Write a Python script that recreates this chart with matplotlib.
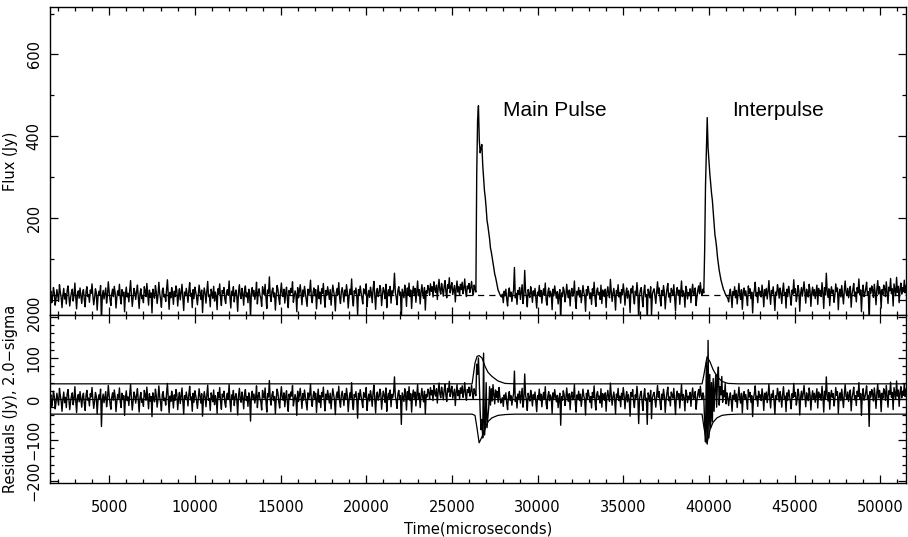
import numpy as np
import matplotlib.pyplot as plt

# sample grid (microseconds)
t_start = 1550
t_step = 50

# off-pulse level of the fitted model (Jy)
baseline = 12

# flux samples (Jy)
flux_a = [
    14, 22, -6, 9, 31, 18, -12, 4, 26, 11, -3, 38, 20, 7, -18, 12, 29, 3, 16, -9,
    24, 35, 10, -14, 6, 19, 27, -2, 13, 42, 8, -21, 15, 23, 5, 30, 12, -8, 18, 26,
    1, -16, 21, 33, 9, 14, -5, 25, 17, 40, 11, -11, 6, 28, 19, -24, 8, 22, 13, 36,
    -55, 10, 24, 3, 17, 30, -7, 12, 45, 21, 2, -13, 16, 27, 9, 34, 18, -19, 7, 23,
    14, 39, 5, -9, 26, 11, 20, -28, 15, 32, 8, 17, -4, 24, 48, 13, -15, 6, 29, 19,
    2, 21, 37, 10, -20, 16, 28, 4, 12, -6, 33, 22, 9, 41, 15, -12, 25, 7, 18, -31,
    27, 13, 5, 36, 20, -8, 11, 44, 17, 3, -17, 23, 30, 8, 14, -3, 26, 50, 12, -22,
    19, 6, 31, 16, -10, 22, 9, 35, 24, -14, 13, 28, 1, 18, 39, 7, -25, 20, 11, 29,
    15, -5, 23, 43, 10, 17, -18, 26, 4, 32, 21, 8, -11, 14, 37, 19, 2, 25, -30, 12,
    30, 16, -7, 22, 46, 9, 13, -16, 27, 18, 5, 34, -2, 20, 11, -23, 28, 15, 40, 6,
    -13, 24, 17, 31, 3, -8, 19, 26, 12, 47, 7, -19, 22, 14, 33, -4, 16, 25, 9, -27,
    21, 38, 11, 4, 29, 15, -12, 23, 35, 8, 18, -6, 27, 13, -42, 20, 31, 10, 24, 2,
    16, 44, -9, 19, 28, 12, 6, -15, 33, 21, 14, 39, 7, -20, 25, 17, 57, 11, -3, 22,
    30, 8, 18, -24, 13, 36, 26, 5, -10, 20, 42, 15, 9, 27, -7, 17, 32, 3, -18, 24,
    12, 29, 19, 45, -5, 10, 23, 14, -28, 31, 6, 21, 38, 16, -11, 25, 9, 34, 18, 1,
    -15, 27, 13, 22, 49, 8, -6, 19, 30, 11, 26, -21, 15, 36, 4, 20, -9, 28, 17, 41,
    7, -17, 24, 12, 33, 19, 2, 26, -12, 15, 37, 22, 9, -26, 18, 29, 14, 43, 5, -8,
    21, 31, 16, -4, 25, 11, 38, 20, -19, 8, 27, 14, 52, 3, -14, 23, 17, 30, 10, -35,
    26, 13, 35, 19, 6, -9, 28, 22, 15, 40, -16, 11, 24, 7, 32, 18, -6, 27, 46, 12,
    -22, 20, 29, 9, 17, 36, 25, -13, 14, 31, 21, 4, 39, -18, 16, 26, 11, 34, -7, 23,
    15, 28, 66, 19, 8, -11, 24, 33, 13, 20, -50, 27, 17, 6, 37, 22, -15, 30, 12, 42,
    9, 25, -20, 18, 34, 14, 29, -5, 21, 47, 11, 26, -9, 19, 38, 16, 5, 31, -24, 23,
    17, 36, 28, 12, 40, 22, 33, 8, 45, 26, 19, 37, 2, 30, 51, 24, 15, 41, 27, 10,
    34, 48, 21, 6, 38, 29, 55, 18, 32, 43, 14, 25, 36, -4, 28, 47, 20, 33, 12, 39,
    26, 44, 16, 30, 52, 22, 9, 35, 28, 41, 19, 31, 46, 24, 13, 37, 27, 20,
]
main_pulse = [310, 440, 475, 390, 360, 372, 380, 330, 300, 268, 250, 225, 195, 182, 165,
              150, 128, 118, 105, 92, 78, 64, 56, 45, 34, 24, 20, 14, 10]
flux_b = [
    8, 15, -6, 22, 11, 27, 3, -14, 18, 30, 9, 20, -3, 13, 25, 80, 6, 17, -10, 24,
    14, 31, 2, 19, 38, -8, 12, 73, 21, 10, -16, 26, 15, 7, 33, 18, -5, 23, 11, 29,
    4, -19, 20, 13, 36, 9, 24, -7, 16, 28, 12, 42, 1, -12, 19, 30, 8, 22, 15, -23,
    27, 11, 35, 17, 5, 21, -9, 14, 26, -52, 18, 9, 32, 23, -4, 12, 39, 16, 6, 25,
    -14, 20, 29, 10, 17, 47, 3, -20, 22, 13, 31, 8, 24, -6, 15, 36, 19, 11, -27, 26,
    12, 34, 21, 4, 18, -10, 28, 15, 44, 7, -15, 23, 30, 13, 19, 2, 37, -8, 25, 16,
    9, 27, -18, 20, 33, 14, 6, 51, 22, -3, 17, 29, 11, -24, 24, 15, 38, 8, 19, -7,
    26, 13, 40, 21, -12, 16, 30, 5, 23, 10, -30, 28, 18, 35, 7, -9, 22, 14, 43, 17,
    -48, 12, 25, 31, 4, -16, 20, 37, 9, 14, -50, 27, 19, 6, 33, -36, 15, 23, 28, 11,
    -8, 21, 45, 16, 30, 2, -14, 24, 13, 36, 19, -21, 10, 27, 41, 8, 17, -5, 29, 22,
    14, 38, 5, -26, 20, 31, 12, 25, -10, 18, 47, 9, 23, 15, -17, 34, 26, 3, 19, 11,
    28, -6, 22, 39, 13, 17, 30, -13, 8, 24, 35, 16, 43, 20, 11, 27, 18,
]
interpulse = [120, 280, 360, 446, 372, 340, 310, 285, 262, 244, 215, 185, 160, 146,
              128, 105, 88, 73, 62, 50, 42, 34, 26, 22, 16, 12, 8, 5]
flux_c = [
    -4, 16, 27, 9, -18, 21, 12, 33, 6, 24, -9, 18, 41, 14, 2, 26, -22, 19, 30, 11,
    23, 7, -13, 35, 17, 28, 4, 20, -31, 13, 25, 44, 10, 19, -6, 31, 15, 22, 8, 37,
    18, -16, 26, 11, 29, 3, 21, 48, 14, -10, 24, 16, 33, 7, -25, 20, 12, 38, 25, 5,
    30, 17, -8, 23, 42, 13, 19, -19, 27, 9, 34, 21, 6, -12, 25, 15, 50, 18, 28, -3,
    12, 36, 22, -27, 16, 31, 10, 25, 45, 19, -7, 27, 14, 8, 39, 23, -15, 17, 32, 11,
    26, 4, 20, 37, -10, 29, 15, 24, 9, 43, 18, -20, 31, 13, 66, 22, 7, 28, -13, 19,
    33, 16, 25, -5, 12, 40, 21, 30, -23, 17, 27, 8, 36, 14, -9, 24, 47, 19, 11, 29,
    6, 22, 34, -17, 15, 26, 41, 10, 20, -4, 31, 18, 52, 13, 25, -28, 23, 37, 9, 16,
    28, 44, 12, 21, -55, 30, 17, 35, 24, 7, 39, 19, -11, 27, 48, 15, 33, 22, -19, 26,
    14, 37, 29, 9, 45, 20, -8, 32, 23, 53, 16, 28, -14, 40, 25, 11, 56, 19, 34, -6,
    27, 42, 15, 31, 21, 49, 18, 36,
]

# residuals (Jy) across the two pulses; off-pulse residual is flux - baseline
main_resid = [85, 60, 100, 40, -30, -75, -50, -95, 112, -88, -60, 40, -70, -45, -20,
              30, -15, 25, -5, 35, 10, -12, 22, 4, 18, -8, 28, 6, -10]
inter_resid = [-60, -105, 90, -110, 143, -95, 60, -70, 40, -55, 50, -30, 25, 60,
               -20, 45, 78, -15, 30, 10, 55, -8, 20, 5, 38, -12, 15, 3]

# 2-sigma envelope
env_t = [1550, 26180, 26350, 26470, 26590, 26760, 26940, 27110, 27340, 27690, 28100, 28690,
         39600, 39710, 39890, 40060, 40240, 40470, 40760, 41110, 41700, 51500]
env_hi = [37, 37, 88, 104, 106, 100, 79, 65, 55, 44, 38, 37,
          37, 60, 103, 91, 72, 55, 43, 38, 37, 37]
env_lo = [-37, -37, -40, -72, -107, -92, -72, -55, -46, -40, -38, -37,
          -37, -70, -108, -75, -57, -46, -40, -38, -37, -37]

flux = np.array(flux_a + main_pulse + flux_b + interpulse + flux_c, dtype=float)
times = t_start + t_step * np.arange(len(flux))

resid = flux - baseline
i0 = len(flux_a)
resid[i0:i0 + len(main_resid)] = main_resid
i1 = len(flux_a) + len(main_pulse) + len(flux_b)
resid[i1:i1 + len(inter_resid)] = inter_resid

plt.rcParams['font.family'] = 'DejaVu Sans'
plt.rcParams['font.size'] = 10.5

fig = plt.figure(figsize=(9.08, 5.37), dpi=100)
ax1 = fig.add_axes([0.0551, 0.4134, 0.9427, 0.5736])
ax2 = fig.add_axes([0.0551, 0.1006, 0.9427, 0.3128], sharex=ax1)

ax1.axhline(baseline, color='black', lw=0.9, ls=(0, (5, 4)))
ax1.plot(times, flux, color='black', lw=1.0)
ax1.text(28000, 450, "Main Pulse", fontsize=15, family='Liberation Sans')
ax1.text(41350, 450, "Interpulse", fontsize=15, family='Liberation Sans')
ax1.set_ylim(-36, 716)
ax1.set_yticks([0, 200, 400, 600])
ax1.set_yticks(np.arange(0, 701, 100), minor=True)
ax1.set_ylabel("Flux (Jy)", labelpad=6)
ax1.tick_params(labelbottom=False)

ax2.plot(times, resid, color='black', lw=1.0)
ax2.plot(env_t, env_hi, color='black', lw=0.9)
ax2.plot(env_t, env_lo, color='black', lw=0.9)
ax2.axhline(0, color='black', lw=0.9)
ax2.set_ylim(-205, 205)
ax2.set_yticks([-200, -100, 0, 100, 200])
ax2.set_yticks(np.arange(-200, 201, 20), minor=True)
ax2.set_ylabel("Residuals (Jy), 2.0\u2212sigma", labelpad=6)
ax2.set_xlabel("Time(microseconds)", labelpad=5)

ax2.set_xlim(1550, 51500)
ax2.set_xticks(np.arange(5000, 50001, 5000))
ax2.set_xticks(np.arange(2000, 51001, 1000), minor=True)

for ax in (ax1, ax2):
    ax.tick_params(which='both', direction='in', top=True, right=True, width=0.9)
    ax.tick_params(which='major', length=6)
    ax.tick_params(which='minor', length=3)
    ax.tick_params(axis='y', pad=6)
    ax.tick_params(axis='x', pad=12)
    plt.setp(ax.get_yticklabels(), rotation=90, va='center')
    for s in ax.spines.values():
        s.set_linewidth(1.0)

fig.savefig("out.png", dpi=100)
